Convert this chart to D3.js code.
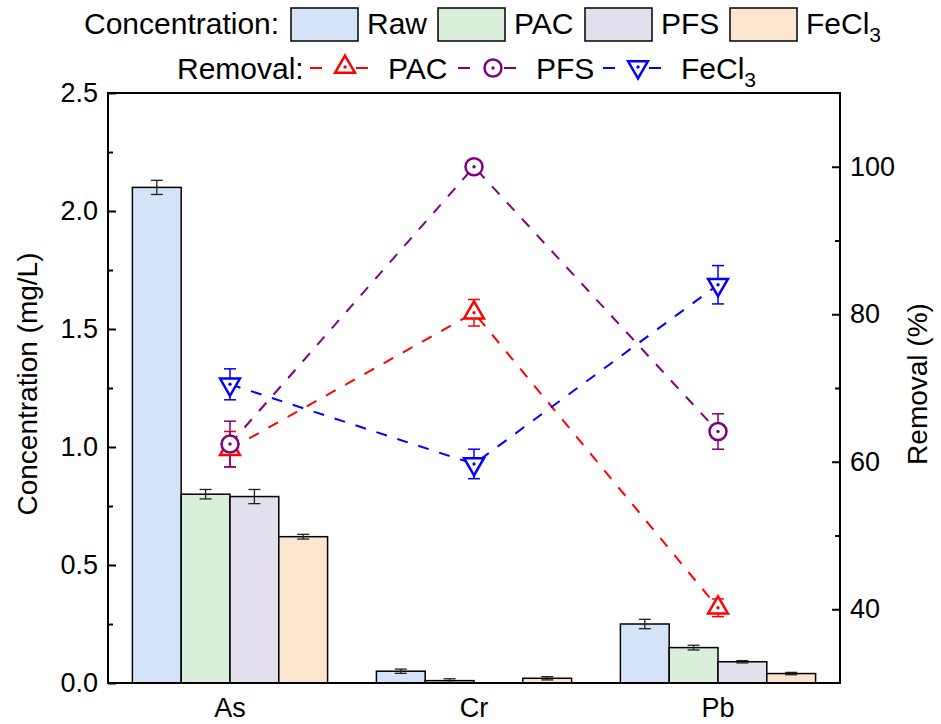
<!DOCTYPE html>
<html lang="en">
<head>
    <meta charset="UTF-8">
    <title>Concentration and removal</title>
    <style>
        body { margin: 0; background: #fff; }
        text { font-family: Arial, "Liberation Sans", sans-serif; fill: #000; }
    </style>
</head>
<body>
    <svg id="chart"></svg>

    <script src="https://d3js.org/d3.v7.min.js"></script>
    <script>
        // categories
        const metals = ['As', 'Cr', 'Pb'];
        const concNames = ['Raw', 'PAC', 'PFS', 'FeCl3'];
        const removalNames = ['PAC', 'PFS', 'FeCl3'];

        // concentration (mg/L) and error
        const concRaw = [2.10, 0.05, 0.25];
        const concPAC = [0.80, 0.01, 0.15];
        const concPFS = [0.79, 0.00, 0.09];
        const concFeCl3 = [0.62, 0.02, 0.04];
        const errRaw = [0.03, 0.009, 0.02];
        const errPAC = [0.02, 0.008, 0.01];
        const errPFS = [0.03, 0, 0.005];
        const errFeCl3 = [0.01, 0.007, 0.005];

        // removal (%) and error
        const remPAC = [61.7, 80.2, 40.2];
        const remPFS = [62.4, 100, 64.1];
        const remFeCl3 = [70.5, 59.7, 84.0];
        const remErrPAC = [2.4, 1.8, 1.2];
        const remErrPFS = [3.1, 0, 2.4];
        const remErrFeCl3 = [2.1, 2.0, 2.6];

        // tick values
        const leftTicks = [0, 0.5, 1.0, 1.5, 2.0, 2.5];
        const rightTicks = [40, 60, 80, 100];

        const concVals = [concRaw, concPAC, concPFS, concFeCl3];
        const concErrs = [errRaw, errPAC, errPFS, errFeCl3];
        const remVals = [remPAC, remPFS, remFeCl3];
        const remErrs = [remErrPAC, remErrPFS, remErrFeCl3];

        const barFill = { Raw: '#d5e3f8', PAC: '#d9eedb', PFS: '#e4dfec', FeCl3: '#fde6d0' };
        const lineColor = { PAC: '#ff0000', PFS: '#800080', FeCl3: '#0000ff' };
        const markerType = { PAC: 'up', PFS: 'circle', FeCl3: 'down' };

        const W = 941, H = 724;
        const margin = { top: 93, left: 108, right: 101, bottom: 41 };
        const plotR = W - margin.right, plotB = H - margin.bottom;

        const svg = d3.select('#chart').attr('width', W).attr('height', H);

        const x = d3.scaleBand().domain(metals).range([margin.left, plotR]);
        const xs = d3.scaleBand().domain(concNames).range([0, x.bandwidth()]).paddingOuter(0.5);
        const y1 = d3.scaleLinear().domain([0, 2.5]).range([plotB, margin.top]);
        const y2 = d3.scaleLinear().domain([30, 110]).range([plotB, margin.top]);

        // bar rows
        const bars = [];
        concNames.forEach((s, i) => metals.forEach((m, j) => {
            bars.push({ s, m, v: concVals[i][j], e: concErrs[i][j] });
        }));

        svg.append('g')
            .selectAll('rect')
            .data(bars.filter(d => d.v > 0))
            .join('rect')
            .attr('x', d => x(d.m) + xs(d.s))
            .attr('y', d => y1(d.v))
            .attr('width', xs.bandwidth())
            .attr('height', d => y1(0) - y1(d.v))
            .attr('fill', d => barFill[d.s])
            .attr('stroke', '#000')
            .attr('stroke-width', 1.5);

        // bar error bars
        const be = svg.append('g').attr('stroke', '#222').attr('stroke-width', 1.3);
        bars.filter(d => d.e > 0).forEach(d => {
            const cx = x(d.m) + xs(d.s) + xs.bandwidth() / 2;
            be.append('line').attr('x1', cx).attr('x2', cx).attr('y1', y1(d.v + d.e)).attr('y2', y1(d.v - d.e));
            be.append('line').attr('x1', cx - 6).attr('x2', cx + 6).attr('y1', y1(d.v + d.e)).attr('y2', y1(d.v + d.e));
            be.append('line').attr('x1', cx - 6).attr('x2', cx + 6).attr('y1', y1(d.v - d.e)).attr('y2', y1(d.v - d.e));
        });

        // removal lines
        const cxOf = m => x(m) + x.bandwidth() / 2;
        const line = d3.line().x(d => cxOf(d.m)).y(d => y2(d.v));
        const remRows = removalNames.map((s, i) => ({
            s, pts: metals.map((m, j) => ({ m, v: remVals[i][j], e: remErrs[i][j] }))
        }));

        svg.append('g')
            .selectAll('path')
            .data(remRows)
            .join('path')
            .attr('d', d => line(d.pts))
            .attr('fill', 'none')
            .attr('stroke', d => lineColor[d.s])
            .attr('stroke-width', 2)
            .attr('stroke-dasharray', '11,11');

        // removal error bars
        remRows.forEach(r => {
            const g = svg.append('g').attr('stroke', lineColor[r.s]).attr('stroke-width', 1.5);
            r.pts.filter(p => p.e > 0).forEach(p => {
                const cx = cxOf(p.m);
                g.append('line').attr('x1', cx).attr('x2', cx).attr('y1', y2(p.v + p.e)).attr('y2', y2(p.v - p.e));
                g.append('line').attr('x1', cx - 6).attr('x2', cx + 6).attr('y1', y2(p.v + p.e)).attr('y2', y2(p.v + p.e));
                g.append('line').attr('x1', cx - 6).attr('x2', cx + 6).attr('y1', y2(p.v - p.e)).attr('y2', y2(p.v - p.e));
            });
        });

        // marker drawing
        const triPath = d3.symbol(d3.symbolTriangle, 170)();
        function drawMarker(g, type, color, cx, cy) {
            const mk = g.append('g').attr('transform', `translate(${cx},${cy})`);
            if (type === 'circle') {
                mk.append('circle').attr('r', 8.5);
            } else {
                mk.append('path').attr('d', triPath)
                    .attr('transform', type === 'down' ? 'rotate(180)' : null);
            }
            mk.selectAll('circle,path').attr('fill', '#fff').attr('stroke', color).attr('stroke-width', 2.5);
            mk.append('circle').attr('r', 1.7).attr('fill', color);
        }

        remRows.forEach(r => {
            const g = svg.append('g');
            r.pts.forEach(p => drawMarker(g, markerType[r.s], lineColor[r.s], cxOf(p.m), y2(p.v)));
        });

        // frame
        svg.append('rect')
            .attr('x', margin.left).attr('y', margin.top)
            .attr('width', plotR - margin.left).attr('height', plotB - margin.top)
            .attr('fill', 'none').attr('stroke', '#000').attr('stroke-width', 2);

        // axes
        svg.append('g')
            .attr('transform', `translate(${margin.left},0)`)
            .call(d3.axisLeft(y1).tickValues(leftTicks).tickFormat(d3.format('.1f')).tickSize(-8).tickPadding(10));
        svg.append('g')
            .attr('transform', `translate(${margin.left},0)`)
            .call(d3.axisLeft(y1).tickValues(d3.range(0.25, 2.5, 0.5)).tickFormat('').tickSize(-5));

        svg.append('g')
            .attr('transform', `translate(${plotR},0)`)
            .call(d3.axisRight(y2).tickValues(rightTicks).tickSize(-8).tickPadding(10));
        svg.append('g')
            .attr('transform', `translate(${plotR},0)`)
            .call(d3.axisRight(y2).tickValues([50, 70, 90]).tickFormat('').tickSize(-5));

        svg.selectAll('.domain').remove();
        svg.selectAll('.tick line').attr('stroke', '#000').attr('stroke-width', 2);
        svg.selectAll('.tick text').attr('font-size', 27).attr('fill', '#000')
            .style('font-family', 'Arial, "Liberation Sans", sans-serif');

        // x labels
        svg.append('g')
            .selectAll('text')
            .data(metals)
            .join('text')
            .attr('x', d => cxOf(d))
            .attr('y', plotB + 34)
            .attr('text-anchor', 'middle')
            .attr('font-size', 27)
            .text(d => d);

        // axis titles
        const midY = (margin.top + plotB) / 2 - 4;
        svg.append('text')
            .attr('transform', `translate(37,${midY}) rotate(-90)`)
            .attr('text-anchor', 'middle')
            .attr('font-size', 28)
            .text('Concentration (mg/L)');
        svg.append('text')
            .attr('transform', `translate(927,${midY}) rotate(-90)`)
            .attr('text-anchor', 'middle')
            .attr('font-size', 28)
            .text('Removal (%)');

        // label with subscript
        function label(g, name, lx, ly) {
            const t = g.append('text').attr('x', lx).attr('y', ly).attr('font-size', 30);
            if (name === 'FeCl3') {
                t.append('tspan').text('FeCl');
                t.append('tspan').attr('font-size', 21).attr('dy', 8).text('3');
            } else {
                t.text(name);
            }
        }

        // legend row 1
        const lg = svg.append('g');
        lg.append('text').attr('x', 84).attr('y', 34).attr('font-size', 30).text('Concentration:');
        const boxX = [291, 438, 585, 730];
        concNames.forEach((s, i) => {
            lg.append('rect').attr('x', boxX[i]).attr('y', 8).attr('width', 67).attr('height', 33)
                .attr('fill', barFill[s]).attr('stroke', '#000').attr('stroke-width', 1.5);
            label(lg, s, boxX[i] + 76, 34);
        });

        // legend row 2
        lg.append('text').attr('x', 177).attr('y', 79).attr('font-size', 30).text('Removal:');
        const lineX = [310, 458, 603];
        removalNames.forEach((s, i) => {
            lg.append('line').attr('x1', lineX[i]).attr('x2', lineX[i] + 58).attr('y1', 68).attr('y2', 68)
                .attr('stroke', lineColor[s]).attr('stroke-width', 2).attr('stroke-dasharray', '12,34');
            drawMarker(lg, markerType[s], lineColor[s], lineX[i] + 35, markerType[s] === 'circle' ? 68 : 67);
            label(lg, s, lineX[i] + 78, 79);
        });
    </script>
</body>
</html>
